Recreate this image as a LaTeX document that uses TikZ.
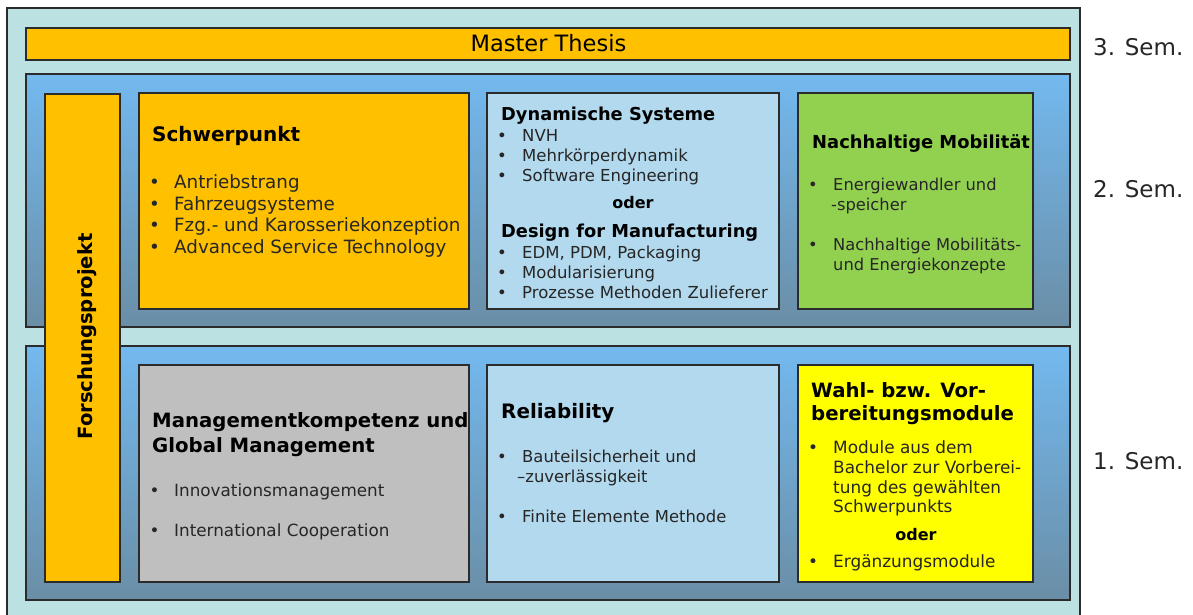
\documentclass[tikz,border=0pt]{standalone}
\usepackage{fontspec}
\setmainfont{DejaVu Sans}
\definecolor{outerc}{HTML}{BCE1E3}
\definecolor{panT}{HTML}{73B9EF}
\definecolor{panB}{HTML}{6A8EA6}
\definecolor{orangec}{HTML}{FFC000}
\definecolor{lblue}{HTML}{B2D9EE}
\definecolor{greenc}{HTML}{92D050}
\definecolor{grayc}{HTML}{BFBFBF}
\definecolor{yellowc}{HTML}{FFFF00}
\definecolor{bordc}{HTML}{2B2B2B}
\definecolor{txtc}{HTML}{262626}
\newcommand\rbox[6]{\node[box,#6,minimum width={(#4-#2)*1pt},minimum height={(#5-#3)*1pt}] (#1) at (#2,#3) {};}
% name, bullet x, text x, baseline, size, text
\newcommand\bline[6]{%
  \node[tx,anchor=base,font=\fontsize{#5}{#5}\selectfont] (#1b) at (#2,#4) {\textbullet};
  \node[tx,font=\fontsize{#5}{#5}\selectfont] (#1) at (#3,#4) {#6};}
\newcommand\pline[5]{\node[tx,font=\fontsize{#4}{#4}\selectfont] (#1) at (#2,#3) {#5};}
\newcommand\tline[5]{\node[tt,font=\fontsize{#4}{#4}\selectfont\bfseries] (#1) at (#2,#3) {#5};}
\begin{document}
\begin{tikzpicture}[x=1pt,y=-1pt,
  box/.style={draw=bordc,line width=1.2pt,inner sep=0pt,outer sep=0pt,anchor=north west},
  pan/.style={top color=panT,bottom color=panB},
  tx/.style={anchor=base west,inner sep=0pt,text=txtc},
  tt/.style={anchor=base west,inner sep=0pt,text=black},
  sem/.style={anchor=base west,inner sep=0pt,text=txtc,font=\fontsize{23}{23}\selectfont}]
\useasboundingbox (0,0) rectangle (1193,615);
\clip (0,0) rectangle (1193,615);
\fill[white] (0,0) rectangle (1193,615);
\rbox{outer}{7}{8}{1080}{630}{fill=outerc}
\rbox{master}{26}{28}{1070}{60}{fill=orangec}
\node[tt,anchor=base,font=\fontsize{22.5}{22.5}\selectfont] (mt) at (548.5,52) {Master Thesis};
\rbox{upper}{26}{74}{1070}{327}{pan}
\rbox{lower}{26}{346}{1070}{600}{pan}
\rbox{forsch}{45}{94}{120}{582}{fill=orangec}
\node[tt,anchor=base,rotate=90,font=\fontsize{19.6}{19.6}\selectfont\bfseries] (ft) at (92,336.5) {Forschungsprojekt};
% upper row
\rbox{schwer}{139}{93}{469}{309}{fill=orangec}
\rbox{dyn}{487}{93}{779}{309}{fill=lblue}
\rbox{nach}{798}{93}{1033}{309}{fill=greenc}
% lower row
\rbox{mgmt}{139}{365}{469}{582}{fill=grayc}
\rbox{rel}{487}{365}{779}{582}{fill=lblue}
\rbox{wahl}{798}{365}{1033}{582}{fill=yellowc}
% Schwerpunkt
\tline{s0}{152}{142}{20}{Schwerpunkt}
\bline{s1}{154.5}{174}{188}{18.3}{Antriebstrang}
\bline{s2}{154.5}{174}{210}{18.3}{Fahrzeugsysteme}
\bline{s3}{154.5}{174}{231}{18.3}{Fzg.- und Karosseriekonzeption}
\bline{s4}{154.5}{174}{253}{18.3}{Advanced Service Technology}
% Dynamische Systeme
\tline{d0}{501}{121}{17.8}{Dynamische Systeme}
\bline{d1}{502}{522}{141}{16.5}{NVH}
\bline{d2}{502}{522}{161}{16.5}{Mehrkörperdynamik}
\bline{d3}{502}{522}{181}{16.5}{Software Engineering}
\node[tt,anchor=base,font=\fontsize{16}{16}\selectfont\bfseries] (d4) at (633,208) {oder};
\tline{d5}{501}{237}{17.8}{Design for Manufacturing}
\bline{d6}{502}{522}{258}{16.5}{EDM, PDM, Packaging}
\bline{d7}{502}{522}{278}{16.5}{Modularisierung}
\bline{d8}{502}{522}{298}{16.5}{Prozesse Methoden Zulieferer}
% Nachhaltige Mobilitaet
\tline{n0}{812}{148}{17.9}{Nachhaltige Mobilität}
\bline{n1}{813}{833}{190}{16.3}{Energiewandler und}
\pline{n2}{831}{210}{16.3}{-speicher}
\bline{n3}{813}{833}{250}{16.3}{Nachhaltige Mobilitäts-}
\pline{n4}{833}{270}{16.3}{und Energiekonzepte}
% Management
\tline{m0}{152}{427}{19.7}{Managementkompetenz und}
\tline{m1}{152}{452}{19.7}{Global Management}
\bline{m2}{154.5}{174}{496}{16.8}{Innovationsmanagement}
\bline{m3}{154.5}{174}{536}{16.8}{International Cooperation}
% Reliability
\tline{r0}{501}{418}{19.9}{Reliability}
\bline{r1}{502}{522}{462}{16.4}{Bauteilsicherheit und}
\pline{r2}{517}{482}{16.4}{–zuverlässigkeit}
\bline{r3}{502}{522}{522}{16.4}{Finite Elemente Methode}
% Wahl
\tline{w0}{811}{397}{19.7}{Wahl- bzw. Vor-}
\tline{w1}{811}{420}{19.7}{bereitungsmodule}
\bline{w2}{813}{833}{453}{16.9}{Module aus dem}
\pline{w3}{833}{473}{16.9}{Bachelor zur Vorberei-}
\pline{w4}{833}{493}{16.9}{tung des gewählten}
\pline{w5}{833}{512}{16.9}{Schwerpunkts}
\node[tt,anchor=base,font=\fontsize{16}{16}\selectfont\bfseries] (w6) at (916,540) {oder};
\bline{w7}{813}{833}{567}{16.9}{Ergänzungsmodule}
% semester labels
\node[sem] (sem3) at (1093,56) {3. Sem.};
\node[sem] (sem2) at (1093,197) {2. Sem.};
\node[sem] (sem1) at (1093,469) {1. Sem.};
\end{tikzpicture}
\end{document}
